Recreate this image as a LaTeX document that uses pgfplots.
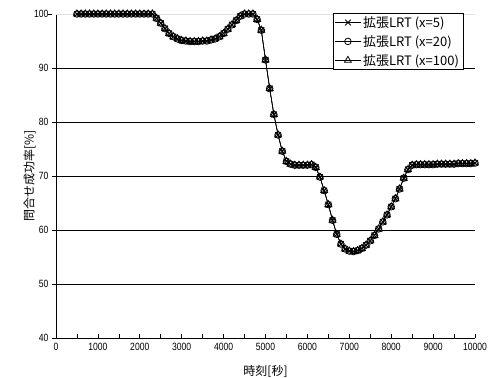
\documentclass[border=0pt]{standalone}
\usepackage{fontspec}
\setmainfont{Noto Sans CJK JP}
\newfontfamily\tickfont[FakeStretch=0.82]{Liberation Sans}
\usepackage{pgfplots}
\usepackage{pgfplotstable}
\pgfplotsset{compat=1.18}
\pgfplotstableread{
x y
500 100
600 100
700 100
800 100
900 100
1000 100
1100 100
1200 100
1300 100
1400 100
1500 100
1600 100
1700 100
1800 100
1900 100
2000 100
2100 100
2200 100
2300 100
2400 99.2
2500 98.3
2600 97.3
2700 96.4
2800 95.8
2900 95.4
3000 95.1
3100 95.0
3200 94.9
3300 94.9
3400 94.9
3500 95.0
3600 95.0
3700 95.2
3800 95.4
3900 95.8
4000 96.4
4100 97.2
4200 98.0
4300 98.8
4400 99.6
4500 100
4600 100
4700 100
4800 99.0
4900 97.0
5000 91.5
5100 86.2
5200 81.4
5300 77.6
5400 74.6
5500 72.7
5600 72.2
5700 72.0
5800 72.0
5900 72.0
6000 72.0
6100 72.1
6200 71.6
6300 69.8
6400 67.3
6500 64.7
6600 61.8
6700 59.2
6800 57.4
6900 56.5
7000 56.1
7100 56.0
7200 56.2
7300 56.6
7400 57.2
7500 58.0
7600 59.0
7700 60.2
7800 61.5
7900 62.8
8000 64.3
8100 65.8
8200 67.6
8300 69.6
8400 71.2
8500 72.0
8600 72.1
8700 72.1
8800 72.1
8900 72.1
9000 72.1
9100 72.2
9200 72.2
9300 72.2
9400 72.2
9500 72.2
9600 72.3
9700 72.3
9800 72.3
9900 72.3
10000 72.4
}\dataA
\begin{document}
\begin{tikzpicture}
\begin{axis}[
  scale only axis,
  width=419pt, height=324pt,
  xmin=0, xmax=10000, ymin=40, ymax=100,
  axis x line*=bottom, axis y line*=left,
  axis line style={black, line width=0.6pt},
  xtick={0,1000,...,10000},
  minor xtick={500,1500,...,9500},
  ytick={40,50,...,90},
  extra y ticks={100},
  extra y tick style={grid style={gray!25, line width=0.6pt}, ytick style={xshift=-4pt}},
  ymajorgrids,
  grid style={black, line width=0.6pt},
  tick align=inside,
  major tick length=4pt, minor tick length=4pt,
  tick style={black, line width=0.6pt},
  ytick style={xshift=-4pt},
  /pgf/number format/assume math mode=true,
  xticklabel style={font=\tickfont\fontsize{10.5}{12}\selectfont, /pgf/number format/1000 sep={}, yshift=-2pt},
  yticklabel style={font=\tickfont\fontsize{10.5}{12}\selectfont, xshift=-4pt},
  scaled x ticks=false,
  clip=false,
  xlabel={時刻[秒]},
  ylabel={問合せ成功率[\%]},
  xlabel style={font=\fontsize{12}{14}\selectfont, at={(axis description cs:0.5,-0.102)}, anchor=center},
  ylabel style={font=\fontsize{12}{14}\selectfont, at={(axis description cs:-0.063,0.5)}, anchor=center},
  legend style={at={(axis description cs:0.972,1.003)}, anchor=north east,
    draw=black, line width=0.6pt, font=\fontsize{13}{15}\selectfont,
    row sep=2.5pt, inner xsep=2pt, inner ysep=1pt, cells={anchor=west}},
  legend cell align=left,
  legend image code/.code={\draw[mark repeat=2,mark phase=2] plot coordinates {(0cm,0cm)(0.45cm,0cm)(0.9cm,0cm)};},
]
\addplot[black, line width=0.6pt, mark=x, mark size=4pt, mark options={solid, line width=0.9pt}] table[x=x,y=y]{\dataA};
\addlegendentry{拡張LRT (x=5)}
\addplot[black, line width=0.6pt, mark=o, mark size=3.3pt, mark options={solid, fill=none, line width=0.8pt}] table[x=x,y=y]{\dataA};
\addlegendentry{拡張LRT (x=20)}
\addplot[black, line width=0.6pt, mark=triangle, mark size=4pt, mark options={solid, fill=none, line width=0.8pt}] table[x=x,y=y]{\dataA};
\addlegendentry{拡張LRT (x=100)}
\end{axis}
\pgfresetboundingbox
\path ([shift={(-56pt,-40pt)}]current axis.south west) rectangle ([shift={(15pt,14pt)}]current axis.north east);
\end{tikzpicture}
\end{document}
